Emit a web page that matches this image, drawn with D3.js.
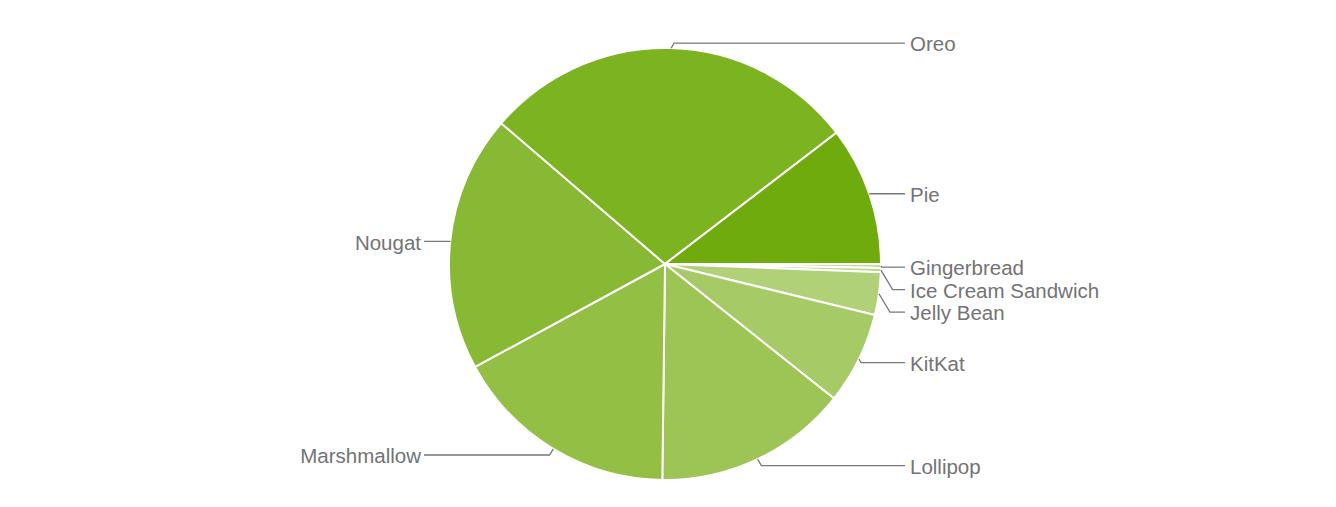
<!DOCTYPE html>
<html>
<head>
<meta charset="utf-8">
<script src="https://cdn.jsdelivr.net/npm/d3@7"></script>
<style>
  html, body { margin: 0; padding: 0; background: #fff; }
  svg { display: block; }
  .lbl { font-family: "Liberation Sans", Arial, sans-serif; font-size: 20.5px; fill: #737373; }
</style>
</head>
<body>
<svg id="chart"></svg>
<script>
// Android platform versions (share in %)
const versions = ["Gingerbread", "Ice Cream Sandwich", "Jelly Bean", "KitKat", "Lollipop",
                  "Marshmallow", "Nougat", "Oreo", "Pie"];
const shares = [0.3, 0.3, 3.2, 6.9, 14.5, 16.9, 19.2, 28.3, 10.4];
const sliceColors = ["#c4dd9c", "#bbd78b", "#b0d178", "#a6cb66", "#9dc556",
                     "#92bf44", "#88b934", "#7cb321", "#6fab0c"];

const width = 1336, height = 507;
const cx = 665, cy = 264, radius = 216;

const svg = d3.select("#chart")
    .attr("width", width)
    .attr("height", height);

const data = versions.map((v, i) => ({ name: v, value: shares[i], color: sliceColors[i] }));

// start at 3 o'clock, going clockwise
const pie = d3.pie()
    .value(d => d.value)
    .sort(null)
    .startAngle(Math.PI / 2)
    .endAngle(Math.PI / 2 + 2 * Math.PI);

const arcs = pie(data);
const arc = d3.arc().innerRadius(0).outerRadius(radius);

const g = svg.append("g").attr("transform", `translate(${cx},${cy})`);

g.selectAll("path.slice")
    .data(arcs)
    .join("path")
    .attr("class", "slice")
    .attr("d", arc)
    .attr("fill", d => d.data.color)
    .attr("stroke", "#fff")
    .attr("stroke-width", 2);

// label positions: point on edge + ideal y a bit outside the pie
const pt = (a, r) => [r * Math.sin(a), -r * Math.cos(a)];
const labels = arcs.map(d => {
    const mid = (d.startAngle + d.endAngle) / 2;
    const edge = pt(mid, radius);
    const out = pt(mid, radius + 6);
    return { name: d.data.name, edge, y: out[1] + 1, right: edge[0] >= 0 };
});

// push overlapping labels apart (top to bottom)
const gap = 22.5;
[true, false].forEach(side => {
    const list = labels.filter(l => l.right === side).sort((a, b) => a.y - b.y);
    for (let i = 1; i < list.length; i++) {
        if (list[i].y < list[i - 1].y + gap) list[i].y = list[i - 1].y + gap;
    }
});

const rightX = 905 - cx, leftX = 424 - cx;

const line = d3.line();
g.selectAll("path.leader")
    .data(labels)
    .join("path")
    .attr("class", "leader")
    .attr("fill", "none")
    .attr("stroke", "#777")
    .attr("stroke-width", 1.3)
    .attr("d", l => {
        const s = l.right ? 1 : -1;
        const dy = l.y - l.edge[1];
        const elbow = [l.edge[0] + s * 0.6 * Math.abs(dy), l.y];
        return line([l.edge, elbow, [l.right ? rightX : leftX, l.y]]);
    });

g.selectAll("text.lbl")
    .data(labels)
    .join("text")
    .attr("class", "lbl")
    .attr("x", l => l.right ? rightX + 5 : leftX - 3)
    .attr("y", l => l.y + 1)
    .attr("dy", "0.35em")
    .attr("text-anchor", l => l.right ? "start" : "end")
    .text(l => l.name);
</script>
</body>
</html>
